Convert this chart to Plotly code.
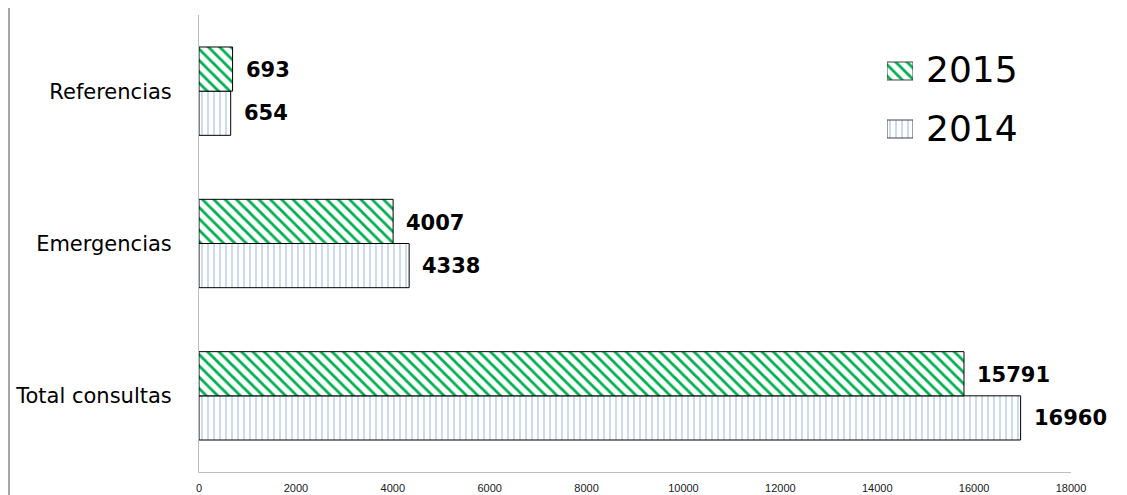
import plotly.graph_objects as go

categories = ["Total consultas", "Emergencias", "Referencias"]
values_2014 = [16960, 4338, 654]
values_2015 = [15791, 4007, 693]
x_ticks = [0, 2000, 4000, 6000, 8000, 10000, 12000, 14000, 16000, 18000]
legend_names = ["2014", "2015"]

pat_2014 = dict(shape="|", fgcolor="#8AB0E2", bgcolor="white", size=6, solidity=0.15, fgopacity=1)
pat_2015 = dict(shape="\\", fgcolor="#00B050", bgcolor="white", size=8, solidity=0.35, fgopacity=1)

W, H = 1119, 487
ML, MR, MT, MB = 191, 56, 7, 23
PW = W - ML - MR
PH = H - MT - MB

fig = go.Figure()
fig.add_trace(go.Bar(
    y=categories, x=values_2014, name="2014", orientation="h",
    marker=dict(color="white", line=dict(color="black", width=1), pattern=pat_2014),
    showlegend=False,
))
fig.add_trace(go.Bar(
    y=categories, x=values_2015, name="2015", orientation="h",
    marker=dict(color="white", line=dict(color="black", width=1), pattern=pat_2015),
    showlegend=False,
))

# value labels
for i, c in enumerate(categories):
    fig.add_annotation(x=values_2015[i], y=c, text="<b>%d</b>" % values_2015[i],
                       showarrow=False, xanchor="left", xshift=11, yshift=21,
                       font=dict(family="DejaVu Sans", size=21, color="black"))
    fig.add_annotation(x=values_2014[i], y=c, text="<b>%d</b>" % values_2014[i],
                       showarrow=False, xanchor="left", xshift=11, yshift=-22,
                       font=dict(family="DejaVu Sans", size=21, color="black"))

# custom legend (larger swatches than plotly's built-in symbols)
leg_x0 = (887 - 8 - ML) / PW
leg_x1 = (913 - 8 - ML) / PW
fig.add_trace(go.Bar(
    x=[1, 1], y=legend_names, orientation="h", xaxis="x2", yaxis="y2",
    width=0.31, showlegend=False, hoverinfo="skip",
    marker=dict(color="white", line=dict(color="#404040", width=1),
                pattern=dict(shape=[pat_2014["shape"], pat_2015["shape"]],
                             fgcolor=[pat_2014["fgcolor"], pat_2015["fgcolor"]],
                             bgcolor="white", fgopacity=1,
                             size=[pat_2014["size"], pat_2015["size"]],
                             solidity=[pat_2014["solidity"], pat_2015["solidity"]])),
))
row_y = {"2015": (472 - 69) / 457, "2014": (472 - 128) / 457}
for name in legend_names:
    fig.add_annotation(xref="paper", yref="paper", x=(924 - 8 - ML) / PW, y=row_y[name],
                       text=name, showarrow=False, xanchor="left", yanchor="middle",
                       font=dict(family="DejaVu Sans", size=36, color="black"))

# outer frame left edge
fig.add_shape(type="line", xref="paper", yref="paper",
              x0=-(ML - 1) / PW, x1=-(ML - 1) / PW, y0=-1, y1=2,
              line=dict(color="#A6A6A6", width=2))

fig.update_layout(
    width=W, height=H,
    margin=dict(l=ML, r=MR, t=MT, b=MB, autoexpand=False),
    plot_bgcolor="white", paper_bgcolor="white",
    barmode="group", bargap=0.42, bargroupgap=0,
    showlegend=False,
    xaxis=dict(range=[0, 18000], tickvals=x_ticks,
               ticktext=[str(t) for t in x_ticks],
               showgrid=False, zeroline=False, automargin=False,
               showline=True, linecolor="#BFBFBF", linewidth=1,
               ticks="", ticklabelstandoff=6,
               tickfont=dict(family="Liberation Sans Narrow, Liberation Sans", size=11, color="#202020")),
    yaxis=dict(range=[-0.5, 2.5], showgrid=False, zeroline=False, automargin=False,
               showline=True, linecolor="#BFBFBF", linewidth=1,
               ticks="", ticklabelstandoff=22,
               tickfont=dict(family="DejaVu Sans", size=21, color="black")),
    xaxis2=dict(domain=[leg_x0, leg_x1], range=[0, 1],
                visible=False, anchor="y2", fixedrange=True),
    yaxis2=dict(domain=[(472 - 158) / 457, (472 - 42) / 457], range=[-0.5, 1.5],
                visible=False, anchor="x2", type="category",
                categoryorder="array", categoryarray=legend_names, fixedrange=True),
)

fig.write_html("out.html")
